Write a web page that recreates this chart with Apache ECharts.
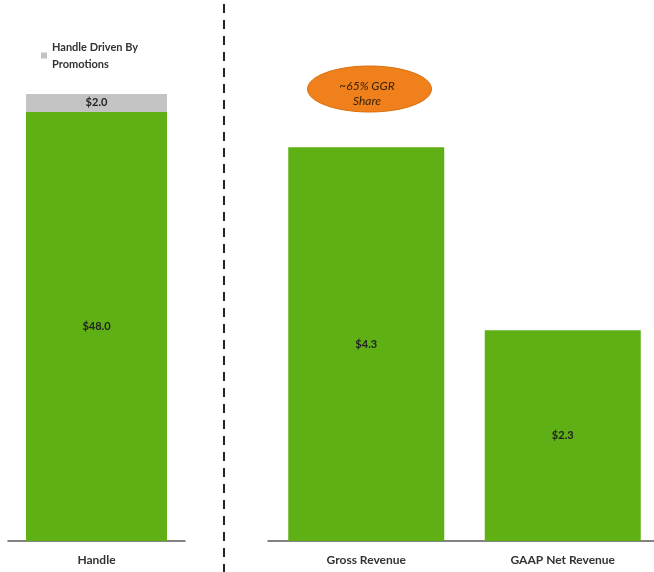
<!DOCTYPE html>
<html><head><meta charset="utf-8">
<script src="https://cdn.jsdelivr.net/npm/echarts@6/dist/echarts.min.js"></script>
<style>html,body{margin:0;padding:0;background:#fff}#c{width:654px;height:572px}</style>
</head><body><div id="c"></div>
<script>
const leftCategories = ['Handle'];
const handleBase = [48.0];
const handlePromo = [2.0];
const rightCategories = ['Gross Revenue', 'GAAP Net Revenue'];
const revenueValues = [4.3, 2.3];
const promoSeriesName = 'Handle Driven By Promotions';
const annotationText = '~65% GGR\nShare';

const GREEN = '#5fb015';
const GRAY = '#c3c3c3';
const FONT = 'Lato';

const chart = echarts.init(document.getElementById('c'), null, {renderer: 'canvas'});
const labelStyle = {show: true, position: 'inside', color: '#222', fontWeight: 'bold', fontSize: 11, fontFamily: FONT,
  formatter: p => '$' + p.value.toFixed(1)};
const axisX = (idx, data) => ({
  type: 'category', gridIndex: idx, data: data,
  axisLine: {show: true, lineStyle: {color: '#5a5a5a', width: 1.5}},
  axisTick: {show: false},
  axisLabel: {color: '#333', fontWeight: 'bold', fontSize: 12, fontFamily: FONT, margin: 13}
});
const axisY = (idx, max) => ({
  type: 'value', gridIndex: idx, min: 0, max: max, show: false, splitLine: {show: false}
});

chart.setOption({
  animation: false,
  backgroundColor: '#fff',
  textStyle: {fontFamily: FONT},
  grid: [
    {left: 8, width: 177, top: 94, bottom: 31, outerBoundsMode: 'none'},
    {left: 268, width: 393, top: 94, bottom: 31, outerBoundsMode: 'none'}
  ],
  xAxis: [axisX(0, leftCategories), axisX(1, rightCategories)],
  yAxis: [axisY(0, 50), axisY(1, 4.88)],
  legend: {
    data: [promoSeriesName],
    left: 41, top: 30, padding: 0,
    icon: 'rect', itemWidth: 6, itemHeight: 6, itemGap: 5,
    formatter: () => 'Handle Driven By\nPromotions',
    textStyle: {color: '#333', fontWeight: 'bold', fontSize: 11, fontFamily: FONT, lineHeight: 17, padding: [17, 0, 0, 0]}
  },
  series: [
    {name: 'Handle', type: 'bar', xAxisIndex: 0, yAxisIndex: 0, stack: 'h', data: handleBase,
      barWidth: 141, itemStyle: {color: GREEN}, label: labelStyle},
    {name: promoSeriesName, type: 'bar', xAxisIndex: 0, yAxisIndex: 0, stack: 'h', data: handlePromo,
      barWidth: 141, itemStyle: {color: GRAY}, label: labelStyle},
    {name: 'Revenue', type: 'bar', xAxisIndex: 1, yAxisIndex: 1, data: revenueValues,
      barWidth: 156, itemStyle: {color: GREEN}, label: labelStyle}
  ],
  graphic: [
    {type: 'line', shape: {x1: 224, y1: 4, x2: 224, y2: 572},
      style: {stroke: '#222', lineWidth: 2, lineDash: [9, 7]}},
    {type: 'ellipse', shape: {cx: 369.5, cy: 89, rx: 62, ry: 23},
      style: {fill: '#f0801b', stroke: '#d9700f', lineWidth: 1}},
    {type: 'text', x: 367, y: 94, style: {text: annotationText, fill: '#3a2205', fontSize: 12,
      fontStyle: 'italic', fontFamily: FONT, align: 'center', verticalAlign: 'middle', lineHeight: 15}}
  ]
});
</script></body></html>
